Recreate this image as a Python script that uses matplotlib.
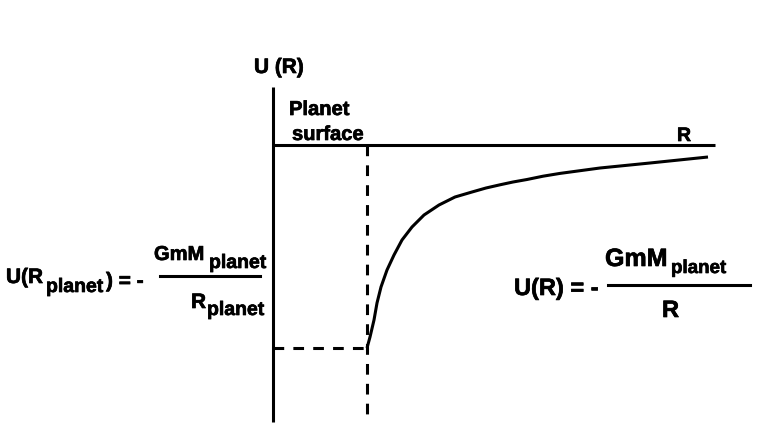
import matplotlib
matplotlib.use("Agg")
import matplotlib.pyplot as plt
import matplotlib.patheffects as pe

plt.rcParams['font.family'] = ['Liberation Sans', 'DejaVu Sans']
plt.rcParams['font.weight'] = 'bold'

# ---- data (diagram units: R to the right, U upwards, origin at axes crossing)
R_planet = 94
U_surface = -203
curve_R = [94, 97, 101, 104, 108, 114, 121, 129, 139, 151, 166, 182, 199,
           213, 227, 240, 254, 270, 287, 327, 377, 435]
curve_U = [-203, -192, -175, -158, -142, -125, -110, -95, -82, -70, -60, -52, -47,
           -43, -39.8, -37, -34.5, -31.2, -28.4, -23, -18, -12]
U_axis_top, U_axis_bottom = 58, -277
R_axis_end = 442

W, H = 773, 448
fig = plt.figure(figsize=(W / 100, H / 100), dpi=100)
ax = fig.add_axes([0, 0, 1, 1])
ax.set_xlim(-273, W - 273)
ax.set_ylim(145 - H, 145)
ax.axis('off')

lw = 2.2
ax.plot([0, 0], [U_axis_top, U_axis_bottom], color='black', lw=lw, solid_capstyle='butt')
ax.plot([0, R_axis_end], [0, 0], color='black', lw=lw, solid_capstyle='butt')
ax.plot([R_planet, R_planet], [0, U_axis_bottom + 1], color='black', lw=lw,
        dashes=(3.5, 3), dash_capstyle='butt')
ax.plot([0, R_planet], [U_surface, U_surface], color='black', lw=lw,
        dashes=(3.5, 3), dash_capstyle='butt')
ax.plot(curve_R, curve_U, color='black', lw=lw, solid_capstyle='butt',
        solid_joinstyle='round')

stroke = [pe.withStroke(linewidth=0.5, foreground='black')]


def px(x, y):
    return x - 273, 145 - y


def txt(x, y, s, size):
    ax.text(*px(x, y), s, fontsize=size, fontweight='bold', ha='left',
            va='baseline', path_effects=stroke)


txt(254, 73, "U (R)", 15)
txt(289, 115, "Planet", 14.5)
txt(292, 140, "surface", 14.5)
txt(677, 141, "R", 14)

# left formula
txt(6, 283, "U(R", 15)
txt(46, 292, "planet", 14)
txt(106, 287, ") = -", 15)
ax.plot([160 - 273, 260 - 273], [145 - 276, 145 - 276], color='black', lw=lw)
txt(154, 260, "GmM", 14.5)
txt(209, 268, "planet", 14)
txt(191, 308, "R", 15)
txt(207, 315, "planet", 14)

# right formula
txt(514, 295, "U(R) = -", 17)
ax.plot([608 - 273, 750 - 273], [145 - 285, 145 - 285], color='black', lw=lw)
txt(605, 266, "GmM", 18)
txt(671, 273, "planet", 13.5)
txt(662, 317, "R", 17)

fig.savefig("out.png", dpi=100)
